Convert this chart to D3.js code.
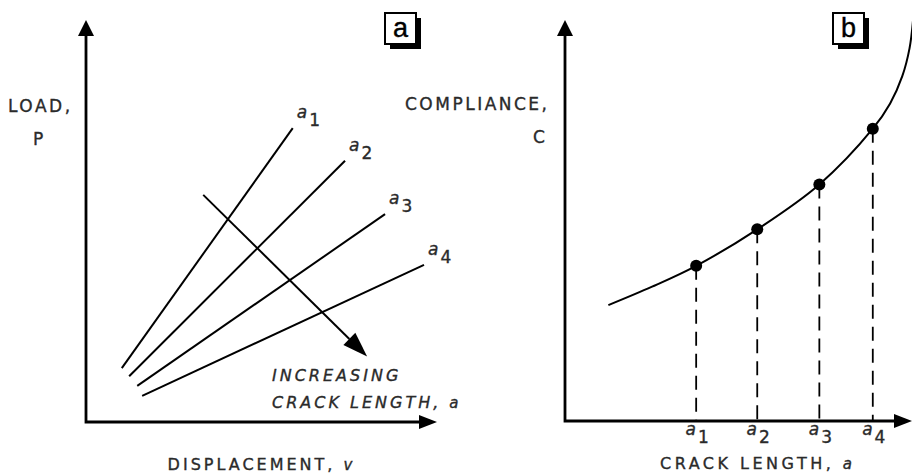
<!DOCTYPE html>
<html>
<head>
<meta charset="utf-8">
<script src="https://cdn.jsdelivr.net/npm/d3@7/dist/d3.min.js"></script>
<style>
  html, body { margin: 0; padding: 0; background: #fff; }
  svg { display: block; }
  .lbl { font-family: "DejaVu Sans", sans-serif; fill: #2a2a2a; stroke: #2a2a2a; stroke-width: 0.35; }
</style>
</head>
<body>
<div id="chart"></div>
<script>
// ---------- DATA (panel a: load vs displacement, in plot units 0..100) ----------
const lineNames   = ["1", "2", "3", "4"];          // subscripts of a1..a4
const lineStartV  = [10.2, 12.3, 14.6, 16.0];       // displacement at lower end
const lineStartP  = [13.4, 11.4, 9.0, 6.5];         // load at lower end
const lineEndV    = [58.9, 73.8, 85.2, 96.3];       // displacement at upper end
const lineEndP    = [73.1, 65.0, 51.7, 39.1];       // load at upper end
const arrowFrom   = [33.4, 56.5];                   // "increasing crack length" arrow
const arrowTo     = [80.1, 16.3];

// ---------- DATA (panel b: compliance vs crack length, plot units 0..100) ----------
const curveA = [12.5, 25.1, 37.8, 55.4, 73.3, 88.7, 93.7, 97.2, 99.3, 100.3];
const curveC = [28.9, 33.5, 38.7, 47.8, 59.0, 72.9, 79.2, 86.0, 93.0, 100];
const crackLengths = [37.8, 55.4, 73.3, 88.7];      // a1..a4
const compliances  = [38.7, 47.8, 59.0, 72.9];
const tickSubs     = ["1", "2", "3", "4"];

// ---------- SETUP ----------
const W = 912, H = 475;
const svg = d3.select("#chart").append("svg")
  .attr("width", W).attr("height", H)
  .attr("viewBox", `0 0 ${W} ${H}`);
svg.append("rect").attr("width", W).attr("height", H).attr("fill", "#fff");

const xA = d3.scaleLinear().domain([0, 100]).range([86, 437]);
const yA = d3.scaleLinear().domain([0, 100]).range([422, 20]);
const xB = d3.scaleLinear().domain([0, 100]).range([565, 912]);
const yB = d3.scaleLinear().domain([0, 100]).range([421, 20]);

function axes(g, x, y) {
  const x0 = x(0), y0 = y(0), x1 = x(100), y1 = y(100);
  g.append("path")
    .attr("d", `M${x0},${y1 + 14}L${x0},${y0}L${x1 - 16},${y0}`)
    .attr("fill", "none").attr("stroke", "#000").attr("stroke-width", 2.8);
  g.append("path")
    .attr("d", `M${x0},${y1}L${x0 - 8},${y1 + 16}L${x0 + 8},${y1 + 16}Z`)
    .attr("fill", "#000");
  g.append("path")
    .attr("d", `M${x1},${y0}L${x1 - 18},${y0 - 7}L${x1 - 18},${y0 + 7}Z`)
    .attr("fill", "#000");
}

function aLabel(g, x, y, sub, anchor) {
  const t = g.append("text").attr("class", "lbl")
    .attr("x", x).attr("y", y)
    .attr("font-size", 17)
    .attr("text-anchor", anchor || "start");
  t.append("tspan").attr("font-style", "italic").text("a");
  t.append("tspan").attr("dx", 2).attr("dy", 8).text(sub);
  return t;
}

function boxLabel(x, y, w, h, letter) {
  svg.append("rect").attr("x", x + 5).attr("y", y + 5).attr("width", w).attr("height", h)
    .attr("fill", "#000");
  svg.append("rect").attr("x", x).attr("y", y).attr("width", w).attr("height", h)
    .attr("fill", "#fff").attr("stroke", "#000").attr("stroke-width", 2);
  svg.append("text").attr("x", x + w / 2).attr("y", y + h - 7)
    .attr("text-anchor", "middle")
    .attr("font-family", "Liberation Sans, Arial, sans-serif")
    .attr("font-size", 27).attr("fill", "#000")
    .attr("stroke", "#000").attr("stroke-width", 0.4).text(letter);
}

// ---------- PANEL A ----------
const gA = svg.append("g");
axes(gA, xA, yA);

const linesA = lineNames.map((n, i) => ({
  n, v0: lineStartV[i], p0: lineStartP[i], v1: lineEndV[i], p1: lineEndP[i]
}));
gA.selectAll("line.load").data(linesA).join("line")
  .attr("class", "load")
  .attr("x1", d => xA(d.v0)).attr("y1", d => yA(d.p0))
  .attr("x2", d => xA(d.v1)).attr("y2", d => yA(d.p1))
  .attr("stroke", "#000").attr("stroke-width", 2);
linesA.forEach(d => aLabel(gA, xA(d.v1) + 4, yA(d.p1) - 10, d.n));

{
  const x0 = xA(arrowFrom[0]), y0 = yA(arrowFrom[1]);
  const x1 = xA(arrowTo[0]),   y1 = yA(arrowTo[1]);
  const ang = Math.atan2(y1 - y0, x1 - x0);
  const hl = 25, hw = 8.5;
  const bx = x1 - hl * Math.cos(ang), by = y1 - hl * Math.sin(ang);
  gA.append("line").attr("x1", x0).attr("y1", y0).attr("x2", bx).attr("y2", by)
    .attr("stroke", "#000").attr("stroke-width", 2);
  gA.append("path")
    .attr("d", `M${x1},${y1}L${bx + hw * Math.sin(ang)},${by - hw * Math.cos(ang)}L${bx - hw * Math.sin(ang)},${by + hw * Math.cos(ang)}Z`)
    .attr("fill", "#000");
}

gA.append("text").attr("class", "lbl").attr("x", 8).attr("y", 112)
  .attr("font-size", 17).attr("letter-spacing", 2.5).text("LOAD,");
gA.append("text").attr("class", "lbl").attr("x", 33).attr("y", 145)
  .attr("font-size", 17).text("P");

gA.append("text").attr("class", "lbl").attr("x", 272).attr("y", 381)
  .attr("font-size", 16).attr("font-style", "italic").attr("letter-spacing", 3)
  .text("INCREASING");
{
  const t = gA.append("text").attr("class", "lbl").attr("x", 272).attr("y", 408)
    .attr("font-size", 16).attr("font-style", "italic").attr("letter-spacing", 3);
  t.append("tspan").text("CRACK LENGTH, ");
  t.append("tspan").attr("font-size", 15).attr("letter-spacing", 0).text("a");
}
{
  const t = gA.append("text").attr("class", "lbl").attr("x", (xA(0) + xA(100)) / 2).attr("y", 470)
    .attr("text-anchor", "middle")
    .attr("font-size", 16).attr("letter-spacing", 3);
  t.append("tspan").text("DISPLACEMENT, ");
  t.append("tspan").attr("font-style", "italic").attr("font-size", 15).text("v");
}
boxLabel(385, 13, 31, 31, "a");

// ---------- PANEL B ----------
const gB = svg.append("g");
axes(gB, xB, yB);

const curve = curveA.map((a, i) => [a, curveC[i]]);
gB.append("path")
  .datum(curve)
  .attr("d", d3.line().x(d => xB(d[0])).y(d => yB(d[1])).curve(d3.curveCatmullRom.alpha(0.5)))
  .attr("fill", "none").attr("stroke", "#000").attr("stroke-width", 2);

const pts = crackLengths.map((a, i) => ({ a, c: compliances[i], s: tickSubs[i] }));
gB.selectAll("line.drop").data(pts).join("line")
  .attr("class", "drop")
  .attr("x1", d => xB(d.a)).attr("x2", d => xB(d.a))
  .attr("y1", d => yB(d.c)).attr("y2", yB(0))
  .attr("stroke", "#000").attr("stroke-width", 1.8)
  .attr("stroke-dasharray", "14,8");
gB.selectAll("circle.pt").data(pts).join("circle")
  .attr("class", "pt")
  .attr("cx", d => xB(d.a)).attr("cy", d => yB(d.c)).attr("r", 6)
  .attr("fill", "#000");
pts.forEach(d => aLabel(gB, xB(d.a) + 1, yB(0) + 14, d.s, "middle"));

gB.append("text").attr("class", "lbl").attr("x", 405).attr("y", 110)
  .attr("font-size", 17).attr("letter-spacing", 2.5).text("COMPLIANCE,");
gB.append("text").attr("class", "lbl").attr("x", 533).attr("y", 143)
  .attr("font-size", 17).text("C");
{
  const t = gB.append("text").attr("class", "lbl").attr("x", 660).attr("y", 469)
    .attr("font-size", 16).attr("letter-spacing", 3.5);
  t.append("tspan").text("CRACK LENGTH, ");
  t.append("tspan").attr("font-style", "italic").attr("font-size", 15).attr("letter-spacing", 0).text("a");
}
boxLabel(833, 13, 31, 31, "b");
</script>
</body>
</html>
